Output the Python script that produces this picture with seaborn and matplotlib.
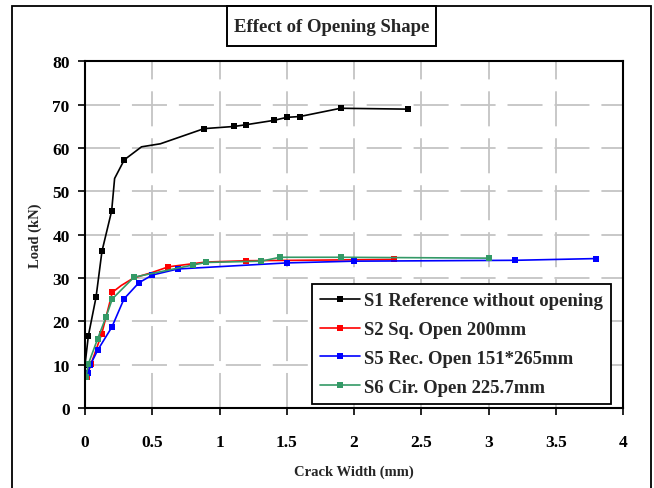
import matplotlib
matplotlib.use("Agg")
import matplotlib.pyplot as plt
import matplotlib.patches as patches
from matplotlib.ticker import MultipleLocator, FormatStrFormatter
import pandas as pd
import seaborn as sns

SERIES = [
    "S1 Reference without opening",
    "S2 Sq. Open 200mm",
    "S5 Rec. Open 151*265mm",
    "S6 Cir. Open 225.7mm",
]
COLORS = ["#000000", "#ff0000", "#0000ff", "#339966"]

# crack width (mm) / load (kN), marked points
s1_x = [0.0, 0.025, 0.082, 0.126, 0.198, 0.292, 0.885, 1.108, 1.197, 1.403, 1.50, 1.598, 1.90, 2.40]
s1_y = [10.0, 16.7, 25.6, 36.2, 45.5, 57.3, 64.5, 65.0, 65.4, 66.4, 67.1, 67.3, 69.2, 69.0]
s2_x = [0.012, 0.045, 0.124, 0.203, 0.62, 0.90, 1.20, 2.30]
s2_y = [7.1, 10.2, 17.1, 26.7, 32.6, 33.7, 34.0, 34.3]
s5_x = [0.02, 0.04, 0.095, 0.20, 0.29, 0.40, 0.50, 0.69, 1.50, 2.00, 3.20, 3.80]
s5_y = [8.0, 10.0, 13.4, 18.7, 25.2, 28.9, 30.7, 32.1, 33.5, 33.9, 34.1, 34.5]
s6_x = [0.007, 0.025, 0.094, 0.156, 0.203, 0.364, 0.80, 0.90, 1.31, 1.45, 1.90, 3.00]
s6_y = [7.1, 10.2, 16.0, 21.0, 25.2, 30.2, 33.0, 33.6, 33.9, 34.8, 34.8, 34.6]

# bends of the smoothed curves (no marker drawn there)
s1_bend_x = [0.22, 0.42, 0.56]
s1_bend_y = [53.0, 60.3, 61.0]
s2_bend_x = [0.27, 0.36, 0.50]
s2_bend_y = [28.3, 30.0, 31.3]

X_TICKS_STEP = 0.5
Y_TICKS_STEP = 10


def build_frame() -> pd.DataFrame:
    rows = []
    marked = [(s1_x, s1_y), (s2_x, s2_y), (s5_x, s5_y), (s6_x, s6_y)]
    bends = [(s1_bend_x, s1_bend_y), (s2_bend_x, s2_bend_y), ([], []), ([], [])]
    for name, (xs, ys), (bx, by) in zip(SERIES, marked, bends):
        for x, y in zip(xs, ys):
            rows.append({"series": name, "crack": x, "load": y, "marked": True})
        for x, y in zip(bx, by):
            rows.append({"series": name, "crack": x, "load": y, "marked": False})
    return pd.DataFrame(rows)


df = build_frame()

sns.set_theme(style="white")
plt.rcParams["font.family"] = ["Liberation Serif", "DejaVu Serif"]
plt.rcParams["font.weight"] = "bold"

fig = plt.figure(figsize=(6.54, 4.89), dpi=100)
ax = fig.add_axes([0.130, 0.1636, 0.8226, 0.7086])

sns.lineplot(
    data=df, x="crack", y="load", hue="series", style="series",
    hue_order=SERIES, style_order=SERIES,
    palette=dict(zip(SERIES, COLORS)),
    markers={s: "s" for s in SERIES}, dashes=False,
    markersize=5, markeredgewidth=0, linewidth=1.2,
    estimator=None, sort=True, ax=ax,
)

# hide markers on the bend points
for name, line in zip(SERIES, ax.lines[:len(SERIES)]):
    sub = df[(df["series"] == name) & df["marked"]]
    xs = set(sub["crack"].round(4))
    idx = [i for i, x in enumerate(line.get_xdata()) if round(float(x), 4) in xs]
    line.set_markevery(idx)

ax.set_xlim(0, 4)
ax.set_ylim(0, 80)
ax.xaxis.set_major_locator(MultipleLocator(X_TICKS_STEP))
ax.yaxis.set_major_locator(MultipleLocator(Y_TICKS_STEP))
ax.xaxis.set_major_formatter(FormatStrFormatter("%g"))
ax.grid(True, color="#c4c4c4", linestyle=(0, (19.4, 6.6)), linewidth=1.3)
ax.set_axisbelow(True)
for sp in ax.spines.values():
    sp.set_color("black")
    sp.set_linewidth(1.5)
ax.tick_params(axis="both", direction="out", length=5, width=1.2, color="black",
               labelsize=12.5, labelcolor="black", bottom=True, left=True)
ax.tick_params(axis="x", pad=14)
ax.tick_params(axis="y", pad=6)

ax.set_xlabel("Crack Width (mm)", fontsize=10.5, fontweight="bold")
ax.set_ylabel("Load (kN)", fontsize=10.5, fontweight="bold")
ax.xaxis.set_label_coords(0.5, -0.162)
ax.yaxis.set_label_coords(-0.080, 0.5)

handles, labels = ax.get_legend_handles_labels()
leg = ax.legend(
    handles, labels, loc="upper left", bbox_to_anchor=(0.4219, 0.3584),
    frameon=True, fancybox=False, framealpha=1, edgecolor="black",
    prop={"family": "Liberation Serif", "weight": "bold", "size": 13.5},
    handlelength=2.1, handletextpad=0.2, borderpad=0.45, labelspacing=0.62,
    borderaxespad=0,
)
leg.get_frame().set_linewidth(1.3)

# outer chart frame
fig.patches.append(patches.Rectangle(
    (12 / 654, -0.05), 639 / 654, 1.05 - 7 / 489,
    transform=fig.transFigure, fill=False, edgecolor="black", linewidth=1.3))

# boxed title
fig.patches.append(patches.Rectangle(
    (227 / 654, 1 - 47 / 489), 209 / 654, 40 / 489,
    transform=fig.transFigure, fill=True, facecolor="white", edgecolor="black", linewidth=1.4))
fig.text(331.5 / 654, 1 - 27 / 489, "Effect of Opening Shape", ha="center", va="center",
         fontsize=13.5, fontweight="bold")

fig.savefig("out.png", dpi=100)
plt.close(fig)
